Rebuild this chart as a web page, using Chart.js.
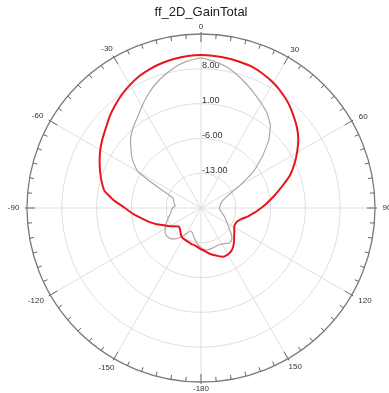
<!DOCTYPE html>
<html>
<head>
<meta charset="utf-8">
<script src="https://cdn.jsdelivr.net/npm/chart.js@4"></script>
<style>
  body { margin: 0; background: #fff; }
  #wrap { width: 389px; height: 393px; }
</style>
</head>
<body>
<div id="wrap"><canvas id="chart1"></canvas></div>
<script>
// theta in degrees, clockwise from top, 5 deg steps
let angles = [];
for (let a = 0; a < 360; a += 5) angles.push(a);
let angleLabels = angles.map(a => String(a < 180 ? a : a - 360));

// radial axis
let rMin = -20;
let rMax = 15;
let rStep = 7;
let ringLabels = [8, 1, -6, -13];

// gain (dB), same order as angles
let gainRed = [
  10.8, 10.7, 10.6, 10.4, 10.2, 9.7, 9.1, 8.3, 7.4, 6.3, 5.2, 3.9,
  2.3, 0.7, -1.0, -3.1, -4.9, -6.5, -7.9, -9.2, -10.4, -11.5, -12.2, -12.4,
  -12.3, -11.8, -11.3, -10.6, -9.9, -9.4, -9.2, -9.2, -9.7, -10.2, -10.7, -11.3,
  -11.7, -12.1, -12.4, -12.5, -12.7, -12.8, -12.9, -13.1, -13.6, -14.0, -14.2, -13.6,
  -12.7, -11.8, -10.5, -9.2, -7.9, -6.3, -4.7, -2.4, -0.3, 0.7, 1.6, 2.5,
  3.4, 4.2, 5.0, 6.0, 6.9, 7.8, 8.6, 9.3, 9.8, 10.2, 10.5, 10.7
];
let gainGray = [
  10.2, 9.6, 8.9, 7.8, 6.6, 5.4, 4.3, 3.2, 1.7, -0.7, -3.9, -7.0,
  -11.0, -14.0, -15.2, -15.8, -16.0, -16.2, -16.3, -16.2, -15.9, -15.5, -15.0, -14.5,
  -13.9, -13.2, -12.1, -11.2, -10.9, -11.3, -11.6, -11.8, -11.7, -11.6, -11.5, -11.6,
  -12.0, -12.6, -13.4, -14.2, -14.8, -14.9, -14.0, -12.8, -11.9, -11.3, -11.1, -11.2,
  -11.7, -12.2, -12.8, -13.3, -13.8, -14.0, -14.3, -14.8, -14.5, -14.3, -14.0, -11.0,
  -5.3, -3.2, -1.6, 0.0, 1.2, 2.3, 3.7, 5.2, 6.6, 7.8, 8.9, 9.7
];

let fontFam = '"Liberation Sans", Arial, sans-serif';

// outer ring ticks, angle labels and ring value labels
let polarDecor = {
  id: 'polarDecor',
  beforeDatasetsDraw(chart) {
    let s = chart.scales.r;
    let ctx = chart.ctx;
    ctx.save();
    ctx.strokeStyle = '#666';
    ctx.lineWidth = 1;
    for (let i = 0; i < angles.length; i++) {
      let major = i % 6 === 0;
      let p0 = s.getPointPosition(i, s.drawingArea + (major ? 2 : 0));
      let p1 = s.getPointPosition(i, s.drawingArea - (major ? 8 : 4.5));
      ctx.beginPath();
      ctx.moveTo(p0.x, p0.y);
      ctx.lineTo(p1.x, p1.y);
      ctx.stroke();
    }

    ctx.fillStyle = '#333';
    ctx.font = '8px ' + fontFam;
    ctx.textAlign = 'center';
    ctx.textBaseline = 'middle';
    for (let i = 0; i < angles.length; i += 6) {
      let lbl = angleLabels[i];
      let th = angles[i] * Math.PI / 180;
      let w = ctx.measureText(lbl).width;
      let d = s.drawingArea + 3 + Math.abs(Math.sin(th)) * w / 2 + Math.abs(Math.cos(th)) * 4;
      let p = s.getPointPosition(i, d);
      ctx.fillText(lbl, s.xCenter + (p.x - s.xCenter) * 1.025, p.y);
    }

    ctx.font = '9px ' + fontFam;
    ctx.textAlign = 'left';
    s.ticks.forEach(t => {
      if (!ringLabels.includes(t.value)) return;
      let d = s.getDistanceFromCenterForValue(t.value);
      ctx.fillText(t.value.toFixed(2), s.xCenter + 1, s.yCenter - d - 3);
    });
    ctx.restore();
  }
};

let ctx1 = document.getElementById('chart1');

let chart1 = new Chart(ctx1, {
  type: 'radar',
  data: {
    labels: angleLabels,
    datasets: [
      {
        label: 'red',
        data: gainRed,
        borderColor: '#e8151c',
        borderWidth: 2,
        fill: false,
        pointRadius: 0
      },
      {
        label: 'gray',
        data: gainGray,
        borderColor: '#b8a2a8',
        borderWidth: 1.2,
        fill: false,
        pointRadius: 0
      }
    ]
  },
  options: {
    responsive: true,
    maintainAspectRatio: false,
    animation: false,
    layout: { padding: { left: 13, right: 0, top: 0, bottom: 11 } },
    elements: { line: { tension: 0.1 } },
    plugins: {
      legend: { display: false },
      tooltip: { enabled: false },
      title: {
        display: true,
        text: 'ff_2D_GainTotal',
        color: '#222',
        font: { family: fontFam, size: 13, weight: 'normal', lineHeight: 1.2 },
        padding: { top: 5, bottom: 13.4 }
      }
    },
    scales: {
      r: {
        min: rMin,
        max: rMax,
        beginAtZero: false,
        ticks: { stepSize: rStep, display: false },
        grid: {
          circular: true,
          color: c => c.tick && c.tick.value === rMax ? '#7a7a7a' : '#dedede',
          lineWidth: c => c.tick && c.tick.value === rMax ? 1.3 : 1
        },
        angleLines: {
          color: c => c.index % 6 === 0 ? '#dedede' : 'rgba(0,0,0,0)',
          lineWidth: 1
        },
        pointLabels: { display: false }
      }
    }
  },
  plugins: [polarDecor]
});
</script>
</body>
</html>
